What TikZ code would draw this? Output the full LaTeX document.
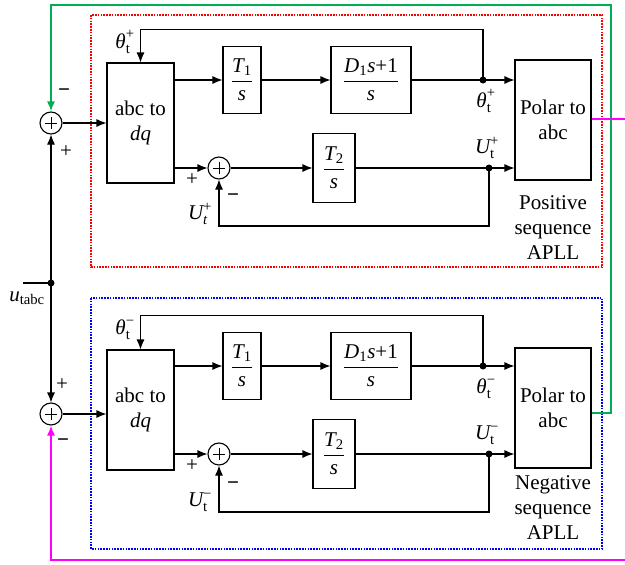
\documentclass[tikz,border=0pt]{standalone}
\usepackage{amsmath}
\usepackage{fontspec}
\setmainfont{Liberation Serif}
\usetikzlibrary{arrows.meta,calc}
\definecolor{pgreen}{RGB}{0,176,80}
\definecolor{pmag}{RGB}{255,0,255}
\definecolor{pred}{RGB}{255,0,0}
\definecolor{pblue}{RGB}{0,0,255}
\newcommand\iv[1]{\text{\itshape #1}}
\newcommand\rv[1]{\text{#1}}
\begin{document}
\begin{tikzpicture}[x=1pt,y=-1pt,
  font=\fontsize{21}{25}\selectfont,
  line width=1.1pt,
  arr/.style={-{Latex[length=10pt,width=8pt]}},
  blk/.style={draw,line width=1.1pt,inner sep=0pt,align=center},
  sumnode/.style={draw,circle,line width=1.1pt,minimum size=22pt,inner sep=0pt,
    path picture={\draw[line width=0.7pt] ($(path picture bounding box.center)+(-6pt,0)$) -- ++(12pt,0);
                  \draw[line width=0.7pt] ($(path picture bounding box.center)+(0,6pt)$) -- ++(0,-12pt);}},
  lbl/.style={inner sep=0pt},
  sgn/.style={inner sep=0pt,font=\fontsize{21}{25}\selectfont\bfseries},
  dotted box/.style={line width=1.2pt,dash pattern=on 1.6pt off 1.2pt},
  colline/.style={line width=1.5pt}
]
\useasboundingbox (0,0) rectangle (625,565);

% dotted frames
\draw[dotted box,pred] (91,15) rectangle (602,267);
\draw[dotted box,pblue] (91,298) rectangle (602,549);

% ---------------- upper (positive) block ----------------
\node[sumnode] (sA) at (51,123) {};
\node[blk,minimum width=67pt,minimum height=120pt] (abc1) at (140.5,123) {abc to\\ \itshape dq};
\node[blk,minimum width=38pt,minimum height=67pt] (T1a) at (242,80) {$\dfrac{\iv{T}_{\rv{1}}}{\iv{s}}$};
\node[blk,minimum width=80pt,minimum height=67pt] (D1a) at (371,80) {$\dfrac{\iv{D}_{\rv{1}}\iv{s}\rv{+1}}{\iv{s}}$};
\node[blk,minimum width=76pt,minimum height=120pt] (pol1) at (553,120) {Polar to\\abc};
\node[sumnode] (sB1) at (219,168) {};
\node[blk,minimum width=42pt,minimum height=69pt] (T2a) at (334,168) {$\dfrac{\iv{T}_{\rv{2}}}{\iv{s}}$};
\coordinate (th1) at (483,80);
\coordinate (u1) at (489,168);

\draw[arr] (sA) -- (abc1.west|-sA);
\draw[arr] (abc1.east|-T1a) -- (T1a);
\draw[arr] (T1a) -- (D1a);
\draw (D1a) -- (th1);
\draw[arr] (th1) -- (pol1.west|-th1);
\draw[arr] (th1) |- ($(abc1.north)+(0,-33)$) -- (abc1.north);
\draw[arr] (abc1.east|-sB1) -- (sB1);
\draw[arr] (sB1) -- (T2a);
\draw (T2a) -- (u1);
\draw[arr] (u1) -- (pol1.west|-u1);
\draw[arr] (u1) |- ($(sB1)+(0,58)$) -- (sB1.south);
\fill (th1) circle (3.5pt);
\fill (u1) circle (3.5pt);

\node[lbl] (lthA) at (125,42) {$\iv{θ}_{\rv{t}}^{\rv{+}}$};
\node[lbl] (lthB) at (486,101) {$\iv{θ}_{\rv{t}}^{\rv{+}}$};
\node[lbl] (luA) at (487,148) {$\iv{U}_{\rv{t}}^{\rv{+}}$};
\node[lbl] (luB) at (200,214) {$\iv{U}_{\iv{t}}^{\rv{+}}$};
\node[lbl] (pB1) at (192,180) {+};
\node[sgn] (mB1) at (233,198) {−};
\node[sgn] (mA) at (64,93) {−};
\node[lbl] (pA) at (66,152) {+};
\node[lbl,align=center] (txt1) at (553,228) {Positive\\sequence\\APLL};

% ---------------- lower (negative) block ----------------
\node[sumnode] (sC) at (51,414) {};
\node[blk,minimum width=67pt,minimum height=120pt] (abc2) at (140.5,410) {abc to\\ \itshape dq};
\node[blk,minimum width=38pt,minimum height=67pt] (T1b) at (242,366) {$\dfrac{\iv{T}_{\rv{1}}}{\iv{s}}$};
\node[blk,minimum width=80pt,minimum height=67pt] (D1b) at (371,366) {$\dfrac{\iv{D}_{\rv{1}}\iv{s}\rv{+1}}{\iv{s}}$};
\node[blk,minimum width=76pt,minimum height=120pt] (pol2) at (553,408) {Polar to\\abc};
\node[sumnode] (sB2) at (219,454) {};
\node[blk,minimum width=42pt,minimum height=69pt] (T2b) at (334,454) {$\dfrac{\iv{T}_{\rv{2}}}{\iv{s}}$};
\coordinate (th2) at (483,366);
\coordinate (u2) at (489,454);

\draw[arr] (sC) -- (abc2.west|-sC);
\draw[arr] (abc2.east|-T1b) -- (T1b);
\draw[arr] (T1b) -- (D1b);
\draw (D1b) -- (th2);
\draw[arr] (th2) -- (pol2.west|-th2);
\draw[arr] (th2) |- ($(abc2.north)+(0,-34)$) -- (abc2.north);
\draw[arr] (abc2.east|-sB2) -- (sB2);
\draw[arr] (sB2) -- (T2b);
\draw (T2b) -- (u2);
\draw[arr] (u2) -- (pol2.west|-u2);
\draw[arr] (u2) |- ($(sB2)+(0,58)$) -- (sB2.south);
\fill (th2) circle (3.5pt);
\fill (u2) circle (3.5pt);

\node[lbl] (lthC) at (125,330) {$\iv{θ}_{\rv{t}}^{\rv{−}}$};
\node[lbl] (lthD) at (486,389) {$\iv{θ}_{\rv{t}}^{\rv{−}}$};
\node[lbl] (luC) at (487,435) {$\iv{U}_{\rv{t}}^{\rv{−}}$};
\node[lbl] (luD) at (200,502) {$\iv{U}_{\rv{t}}^{\rv{−}}$};
\node[lbl] (pB2) at (192,466) {+};
\node[sgn] (mB2) at (233,486) {−};
\node[lbl] (pC) at (62,385) {+};
\node[sgn] (mC) at (63,443) {−};
\node[lbl,align=center] (txt2) at (553,508) {Negative\\sequence\\APLL};

% ---------------- input ----------------
\coordinate (ut) at (51,283);
\coordinate (utin) at (23,283);
\draw (utin) -- (ut);
\draw[arr] (ut) -- (sA);
\draw[arr] (ut) -- (sC);
\fill (ut) circle (3.5pt);
\node[lbl] (lut) at (27,298) {$\iv{u}_{\rv{tabc}}$};

% ---------------- cross feedback ----------------
\coordinate (gcorner) at (611,5);
\coordinate (m1) at (625,119);
\coordinate (m2) at (625,560);
\draw[pgreen,colline,arr] ($(pol2.east)+(0,5)$) -| (gcorner) -| (sA.north);
\draw[pmag,colline] (pol1.east|-m1) -- (m1);
\draw[pmag,colline,arr] (m2) -| (sC.south);
\end{tikzpicture}
\end{document}
